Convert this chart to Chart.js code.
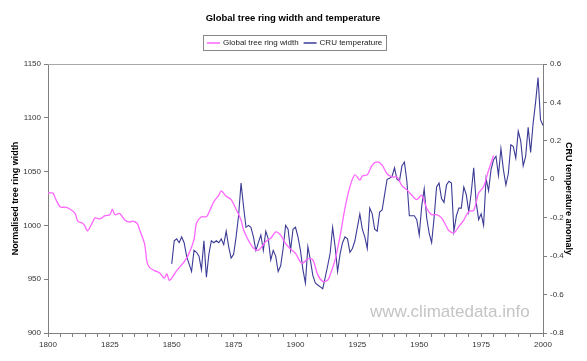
<!DOCTYPE html>
<html>
<head>
<meta charset="utf-8">
<script src="https://cdn.jsdelivr.net/npm/chart.js@4.4.1/dist/chart.umd.min.js"></script>
<style>
  html, body { margin: 0; padding: 0; background: #fff; }
  #wrap { width: 587px; height: 361px; position: relative; }
</style>
</head>
<body>
<div id="wrap"><canvas id="myChart" width="587" height="361"></canvas></div>
<script>
const chartTitle = "Global tree ring width and temperature";
const ringLabel = "Global tree ring width";
const tempLabel = "CRU temperature";

// tree ring width
const ringYears = [1800, 1802, 1803, 1805, 1807, 1809, 1811, 1812, 1814, 1815, 1816, 1818, 1819, 1821, 1823, 1825,
  1826, 1827, 1829, 1831, 1833, 1834, 1836, 1837, 1839, 1840, 1841, 1843, 1845, 1847, 1848, 1849, 1850, 1852,
  1855, 1857, 1859, 1860, 1862, 1864, 1865, 1867, 1869, 1870, 1872, 1874, 1876, 1878, 1879, 1881, 1883, 1885,
  1888, 1890, 1892, 1894, 1896, 1898, 1900, 1902, 1903, 1905, 1907, 1909, 1911, 1913, 1914, 1916, 1918, 1920,
  1922, 1924, 1926, 1927, 1929, 1931, 1933, 1935, 1937, 1939, 1941, 1943, 1945, 1947, 1949, 1951, 1953, 1955,
  1957, 1959, 1961, 1962, 1964, 1966, 1968, 1970, 1972, 1974, 1976, 1978, 1980];
const ringValues = [1030, 1030, 1025, 1017, 1017, 1015, 1011, 1004, 1002, 999, 995, 1003, 1007, 1006, 1009, 1010,
  1015, 1010, 1011, 1005, 1003, 1004, 1002, 996, 983, 966, 961, 958, 956, 951, 955, 949, 951, 958,
  966, 974, 987, 1002, 1008, 1008, 1012, 1022, 1028, 1032, 1027, 1024, 1015, 1005, 996, 986, 979, 977,
  985, 988, 994, 991, 983, 978, 974, 966, 965, 969, 968, 954, 948, 949, 954, 968, 990, 1016,
  1036, 1047, 1042, 1046, 1047, 1056, 1059, 1056, 1048, 1045, 1045, 1037, 1033, 1028, 1024, 1028, 1016, 1010,
  1010, 1007, 999, 995, 993, 999, 1005, 1013, 1014, 1030, 1036, 1051, 1065];

// CRU temperature anomaly, one value per year from tempStart
const tempStart = 1850;
const tempValues = [
  -0.44, -0.32, -0.31, -0.33, -0.30, -0.33, -0.40, -0.44, -0.48, -0.37,
  -0.38, -0.40, -0.47, -0.32, -0.51, -0.39, -0.32, -0.33, -0.32, -0.33,
  -0.31, -0.34, -0.27, -0.35, -0.41, -0.39, -0.30, -0.19, -0.02, -0.14,
  -0.25, -0.24, -0.25, -0.30, -0.37, -0.33, -0.29, -0.37, -0.27, -0.31,
  -0.42, -0.37, -0.40, -0.48, -0.45, -0.36, -0.24, -0.26, -0.37, -0.26,
  -0.25, -0.30, -0.37, -0.47, -0.54, -0.35, -0.42, -0.50, -0.54, -0.55,
  -0.56, -0.57, -0.51, -0.45, -0.385, -0.25, -0.35, -0.48, -0.39, -0.33,
  -0.30, -0.31, -0.38, -0.36, -0.32, -0.25, -0.18, -0.26, -0.30, -0.36,
  -0.15, -0.18, -0.26, -0.27, -0.17, -0.16, -0.08, 0.00, 0.005, 0.015,
  0.06, 0.00, -0.01, 0.07, 0.09, -0.01, -0.19, -0.19, -0.19, -0.21,
  -0.29, -0.14, -0.05, -0.20, -0.28, -0.33, -0.20, -0.04, -0.02, -0.10,
  -0.12, -0.03, -0.01, -0.02, -0.27, -0.19, -0.15, -0.15, -0.04, -0.08,
  -0.17, -0.07, 0.06, -0.12, -0.21, -0.18, -0.24, 0.005, -0.06, 0.05,
  0.10, 0.12, 0.02, 0.16, 0.05, -0.03, 0.03, 0.18, 0.17, 0.11,
  0.25, 0.20, 0.07, 0.12, 0.27, 0.14, 0.29, 0.40, 0.53, 0.31,
  0.28];

const xLabelYears = [1800, 1825, 1850, 1875, 1900, 1925, 1950, 1975, 2000];

const ringColor = "#ff66ff";
const tempColor = "#3b3b96";
const axisColor = "#808080";
const fontFamily = "'Liberation Sans', Arial, sans-serif";

// title, boxed legend and watermark drawn on the canvas
const decorPlugin = {
  id: "decor",
  afterDraw(chart) {
    const ctx = chart.ctx;
    const area = chart.chartArea;
    ctx.save();

    // frame line along the top of the plot
    ctx.strokeStyle = "#a8a8a8";
    ctx.lineWidth = 1;
    ctx.beginPath();
    ctx.moveTo(area.left, area.top + 0.5);
    ctx.lineTo(area.right, area.top + 0.5);
    ctx.stroke();

    ctx.fillStyle = "#000";
    ctx.font = "bold 9.5px " + fontFamily;
    ctx.textAlign = "center";
    ctx.textBaseline = "middle";
    ctx.fillText(chartTitle, 293, 18);

    // legend
    ctx.font = "8px " + fontFamily;
    ctx.textAlign = "left";
    const items = chart.data.datasets.map(d => ({ text: d.label, color: d.borderColor }));
    const lineLen = 13, gap = 3, itemGap = 5, padX = 4;
    let total = padX * 2;
    items.forEach((it, i) => {
      total += lineLen + gap + ctx.measureText(it.text).width + (i ? itemGap : 0);
    });
    const boxTop = 35, boxH = 15;
    let x = Math.round(295 - total / 2);
    ctx.strokeStyle = "#888";
    ctx.lineWidth = 1;
    ctx.strokeRect(x + 0.5, boxTop + 0.5, Math.round(total), boxH);
    x += padX;
    const midY = boxTop + boxH / 2 + 0.5;
    items.forEach((it, i) => {
      if (i) x += itemGap;
      ctx.strokeStyle = it.color;
      ctx.lineWidth = 1.5;
      ctx.beginPath();
      ctx.moveTo(x, midY);
      ctx.lineTo(x + lineLen, midY);
      ctx.stroke();
      x += lineLen + gap;
      ctx.fillStyle = "#222";
      ctx.fillText(it.text, x, midY);
      x += ctx.measureText(it.text).width;
    });

    // watermark
    ctx.fillStyle = "#c4c4c4";
    ctx.font = "17px " + fontFamily;
    ctx.textAlign = "left";
    ctx.textBaseline = "alphabetic";
    ctx.fillText("www.climatedata.info", 370, 317);
    ctx.restore();
  }
};

const tickFont = { size: 8, family: fontFamily };
const titleFont = { size: 9, weight: "bold", family: fontFamily };

const ctx = document.getElementById("myChart").getContext("2d");
const myChart = new Chart(ctx, {
  type: "line",
  data: {
    datasets: [
      {
        label: ringLabel,
        data: ringYears.map((yr, i) => ({ x: yr, y: ringValues[i] })),
        borderColor: ringColor,
        borderWidth: 1.3,
        pointRadius: 0,
        tension: 0.3,
        yAxisID: "yRing",
      },
      {
        label: tempLabel,
        data: tempValues.map((v, i) => ({ x: tempStart + i, y: v })),
        borderColor: tempColor,
        borderWidth: 1.1,
        pointRadius: 0,
        tension: 0,
        yAxisID: "yTemp",
      },
    ],
  },
  options: {
    responsive: false,
    animation: false,
    layout: { padding: { top: 64, left: 0, right: 0, bottom: 0 } },
    plugins: {
      legend: { display: false },
      title: { display: false },
      tooltip: { enabled: false },
    },
    scales: {
      x: {
        type: "linear",
        min: 1800,
        max: 2000,
        afterFit: s => { s.height = 28; },
        afterBuildTicks: s => {
          const t = [];
          for (let v = 1800; v <= 2000; v += 5) t.push({ value: v });
          s.ticks = t;
        },
        ticks: {
          autoSkip: false,
          maxRotation: 0,
          padding: 3,
          color: "#333",
          font: tickFont,
          callback: v => (xLabelYears.includes(v) ? String(v) : ""),
        },
        grid: { drawOnChartArea: false, color: axisColor, tickLength: 4 },
        border: { color: axisColor, width: 1 },
      },
      yRing: {
        position: "left",
        min: 900,
        max: 1150,
        afterFit: s => { s.width = 48; },
        ticks: {
          stepSize: 50,
          padding: 3,
          color: "#333",
          font: tickFont,
          callback: v => String(v),
        },
        title: {
          display: true,
          text: "Normalised tree ring width",
          color: "#000",
          padding: { top: 10, bottom: 0 },
          font: titleFont,
        },
        grid: { drawOnChartArea: false, color: axisColor, tickLength: 4 },
        border: { color: axisColor, width: 1 },
      },
      yTemp: {
        position: "right",
        min: -0.8,
        max: 0.6,
        afterFit: s => { s.width = 44; },
        ticks: {
          stepSize: 0.2,
          padding: 3,
          color: "#333",
          font: tickFont,
          callback: v => String(Number(v.toFixed(1))),
        },
        title: {
          display: true,
          text: "CRU temperature anomaly",
          color: "#000",
          padding: { top: 13, bottom: 0 },
          font: titleFont,
        },
        grid: { drawOnChartArea: false, color: axisColor, tickLength: 4 },
        border: { color: axisColor, width: 1 },
      },
    },
  },
  plugins: [decorPlugin],
});
</script>
</body>
</html>
